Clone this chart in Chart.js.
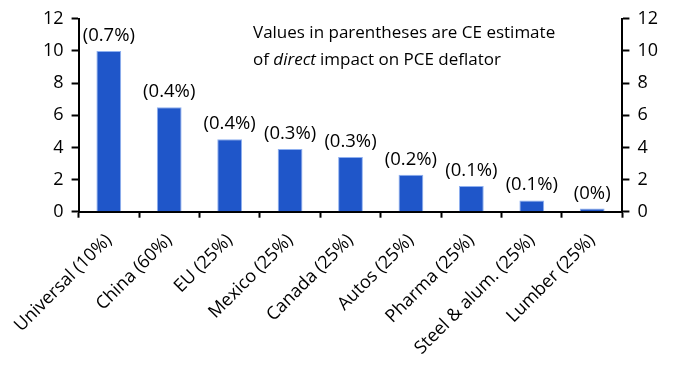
<!DOCTYPE html>
<html>
<head>
<meta charset="utf-8">
<script src="https://cdn.jsdelivr.net/npm/chart.js@4"></script>
<style>
  html, body { margin: 0; padding: 0; background: #fff; }
  #wrap { width: 680px; height: 382px; }
</style>
</head>
<body>
<div id="wrap"><canvas id="tariffChart"></canvas></div>
<script>
// categories and values
const categories = ["Universal (10%)", "China (60%)", "EU (25%)", "Mexico (25%)", "Canada (25%)",
  "Autos (25%)", "Pharma (25%)", "Steel & alum. (25%)", "Lumber (25%)"];
const tariffValues = [10, 6.5, 4.5, 3.9, 3.4, 2.3, 1.6, 0.7, 0.2];
const pceImpact = ["(0.7%)", "(0.4%)", "(0.4%)", "(0.3%)", "(0.3%)", "(0.2%)", "(0.1%)", "(0.1%)", "(0%)"];
const yTicks = [0, 2, 4, 6, 8, 10, 12];

const FONT = "'Open Sans', sans-serif";

// labels above the bars + the note in the top right
const annotate = {
  id: "annotate",
  afterDatasetsDraw(chart) {
    const ctx = chart.ctx;
    const meta = chart.getDatasetMeta(0);
    ctx.save();
    ctx.fillStyle = "#000";
    ctx.font = "18.5px " + FONT;
    ctx.textAlign = "center";
    ctx.textBaseline = "bottom";
    meta.data.forEach(function (bar, i) {
      ctx.fillText(pceImpact[i], bar.x, bar.y - 6);
    });

    // note text
    const x0 = 253;
    ctx.font = "17px " + FONT;
    ctx.textAlign = "left";
    ctx.textBaseline = "alphabetic";
    ctx.fillText("Values in parentheses are CE estimate", x0, 38);
    let x = x0;
    ctx.fillText("of ", x, 65);
    x += ctx.measureText("of ").width;
    ctx.font = "italic 17px " + FONT;
    ctx.fillText("direct", x, 65);
    x += ctx.measureText("direct").width + 4;
    ctx.font = "17px " + FONT;
    ctx.fillText("impact on PCE deflator", x, 65);
    ctx.restore();
  }
};

const axisY = function (pos) {
  return {
    position: pos,
    min: 0,
    max: 12,
    afterBuildTicks: function (axis) {
      axis.ticks = yTicks.map(function (v) { return { value: v }; });
    },
    border: { display: true, color: "#000", width: 2 },
    grid: { display: true, drawOnChartArea: false, drawTicks: true, tickLength: 7, tickWidth: 2, tickColor: "#000" },
    ticks: { color: "#000", font: { size: 18, family: FONT }, padding: 8 }
  };
};

const ctx = document.getElementById("tariffChart").getContext("2d");
new Chart(ctx, {
  type: "bar",
  data: {
    labels: categories,
    datasets: [{
      data: tariffValues,
      backgroundColor: "#1f56c9",
      borderColor: "#8fb0f0",
      borderWidth: 1,
      barPercentage: 0.82,
      categoryPercentage: 0.5,
      yAxisID: "y"
    }]
  },
  options: {
    responsive: true,
    maintainAspectRatio: false,
    animation: false,
    layout: { padding: { top: 10, right: 14, left: 35, bottom: 11 } },
    plugins: {
      legend: { display: false },
      tooltip: { enabled: false }
    },
    scales: {
      x: {
        offset: true,
        border: { display: true, color: "#000", width: 2 },
        grid: { display: true, offset: true, drawOnChartArea: false, drawTicks: true, tickLength: 6, tickWidth: 2, tickColor: "#000" },
        ticks: { color: "#000", font: { size: 18, family: FONT }, minRotation: 45, maxRotation: 45, padding: 12, autoSkip: false }
      },
      y: axisY("left"),
      y2: axisY("right")
    }
  },
  plugins: [annotate]
});
</script>
</body>
</html>
